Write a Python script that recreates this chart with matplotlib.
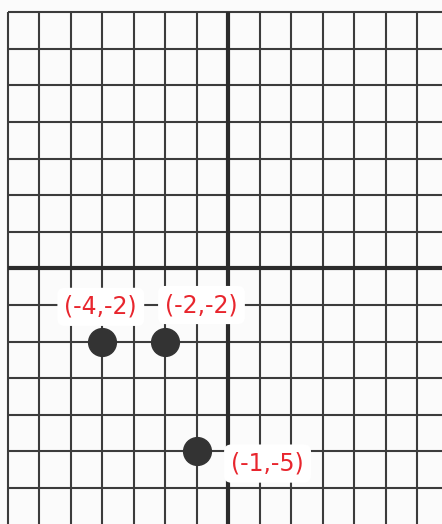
import matplotlib
matplotlib.use("Agg")
import matplotlib.pyplot as plt

# data
point_x = [-4, -2, -1]
point_y = [-2, -2, -5]
labels = ["(-4,-2)", "(-2,-2)", "(-1,-5)"]
label_x = [-4.05, -0.85, 1.25]
label_y = [-1.05, -1.0, -5.33]

grid_x = list(range(-7, 7))
grid_y = list(range(-6, 8))

xlim = (-7.254, 6.795)
ylim = (-6.98, 7.33)

fig = plt.figure(figsize=(4.42, 5.24), dpi=100)
fig.patch.set_facecolor("#fbfbfb")
ax = fig.add_axes([0, 0, 1, 1])
ax.set_facecolor("#fbfbfb")
ax.set_xlim(*xlim)
ax.set_ylim(*ylim)
ax.axis("off")

top = max(grid_y)
left = min(grid_x)
ax.vlines(grid_x, ylim[0], top, colors="#3c3c3c", linewidth=1.5, zorder=1)
ax.hlines(grid_y, left, xlim[1], colors="#3c3c3c", linewidth=1.5, zorder=1)
# axes
ax.hlines([0], left, xlim[1], colors="#2b2b2b", linewidth=3.0, zorder=2)
ax.vlines([0], ylim[0], top, colors="#2b2b2b", linewidth=3.0, zorder=2)

ax.plot(point_x, point_y, "o", color="#333333", markersize=20, zorder=4)

for lx, ly, t in zip(label_x, label_y, labels):
    ax.text(lx, ly, t, color="#e8262e", fontsize=17, ha="center", va="center",
            family="DejaVu Sans", zorder=5,
            bbox=dict(boxstyle="round,pad=0.3", facecolor="white", edgecolor="none"))

fig.savefig("out.png", dpi=100, facecolor=fig.get_facecolor())
